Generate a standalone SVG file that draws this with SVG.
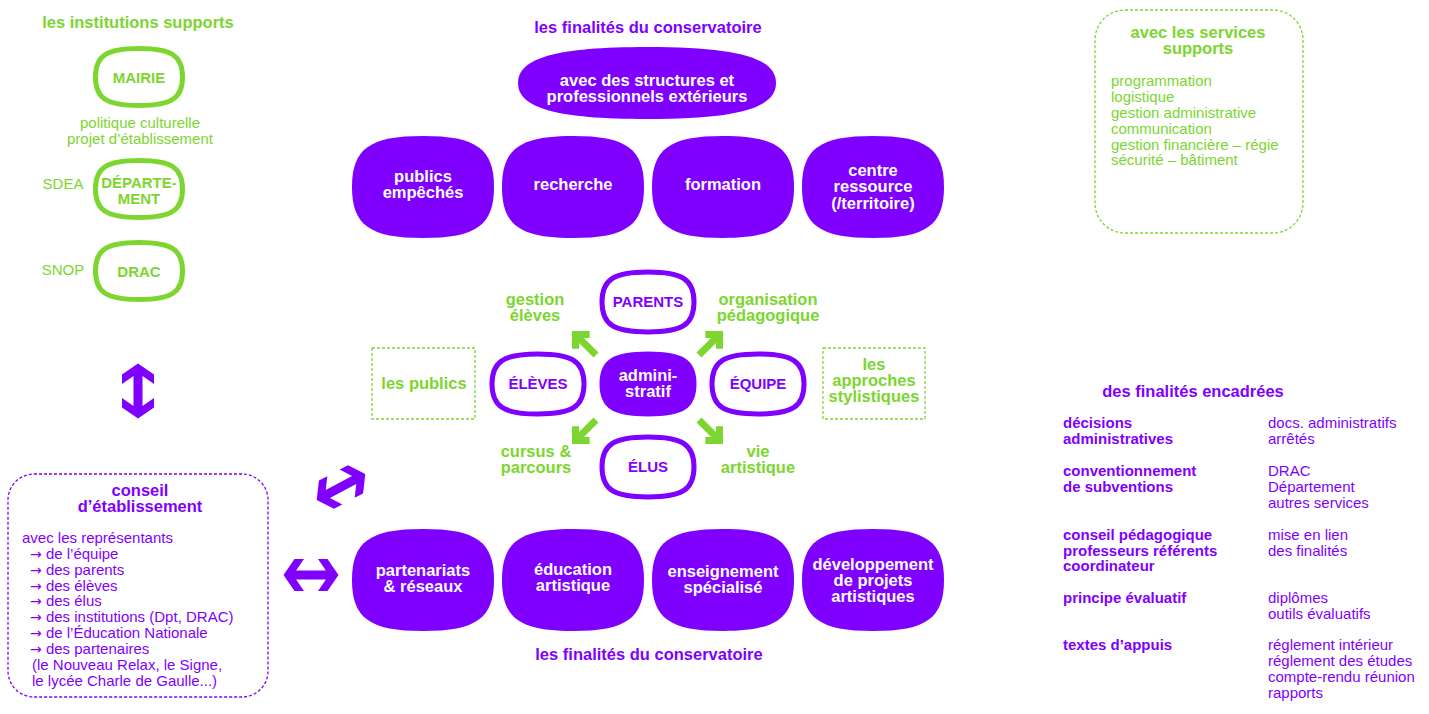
<svg xmlns="http://www.w3.org/2000/svg" xmlns:xlink="http://www.w3.org/1999/xlink" width="1429" height="714" viewBox="0 0 1429 714">
<style>
text{font-family:"Liberation Sans",Arial,sans-serif}
.pt{fill:#7f00ff;font-weight:bold;font-size:16.5px;text-anchor:middle}
.gt{fill:#7dd530;font-weight:bold;font-size:16.5px;text-anchor:middle}
.wb{fill:#fff;font-weight:bold;font-size:16.5px;text-anchor:middle}
.pc{fill:#7f00ff;font-weight:bold;font-size:15px;text-anchor:middle}
.gc{fill:#7dd530;font-weight:bold;font-size:15px;text-anchor:middle}
.gl{fill:#7dd530;font-weight:bold;font-size:16.5px;text-anchor:middle}
.gr{fill:#7dd530;font-size:15px}
.pr{fill:#7f00ff;font-size:15px}
.pb{fill:#7f00ff;font-weight:bold;font-size:15px}
.ar{font-family:"DejaVu Sans",sans-serif;font-size:14px}
.fill{fill:#7f00ff}
.pout{fill:#fff;stroke:#7f00ff;stroke-width:5}
.pfill{fill:#7f00ff;stroke:#7f00ff;stroke-width:5}
.gout{fill:#fff;stroke:#7dd530;stroke-width:5}
.gdash{fill:none;stroke:#7dd530;stroke-width:1.3;stroke-dasharray:3 2}
.pdash{fill:none;stroke:#7f00ff;stroke-width:1.3;stroke-dasharray:3 2}
.garr path{stroke:#7dd530;stroke-width:7;fill:none;stroke-linejoin:miter}
</style>
<defs>
<path id="rowBlob" d="M0,-51 C53.25,-51 71,-38.25 71,0 C71,38.25 53.25,51 0,51 C-53.25,51 -71,38.25 -71,0 C-71,-38.25 -53.25,-51 0,-51Z"/>
<path id="topBlob" d="M0,-36 C90.3,-36 129,-25.2 129,0 C129,25.2 90.3,36 0,36 C-90.3,36 -129,25.2 -129,0 C-129,-25.2 -90.3,-36 0,-36Z"/>
<path id="smallBlob" d="M0,-30 C34.5,-30 46,-22.5 46,0 C46,22.5 34.5,30 0,30 C-34.5,30 -46,22.5 -46,0 C-46,-22.5 -34.5,-30 0,-30Z"/>
<path id="instBlob" d="M0,-28.5 C32.6,-28.5 43.5,-21.4 43.5,0 C43.5,21.4 32.6,28.5 0,28.5 C-32.6,28.5 -43.5,21.4 -43.5,0 C-43.5,-21.4 -32.6,-28.5 0,-28.5Z"/>
<path id="dbl" d="M0,-27.5 L16,-16.5 L16,-7 L4.5,-14.9 L4.5,14.9 L16,7 L16,16.5 L0,27.5 L-16,16.5 L-16,7 L-4.5,14.9 L-4.5,-14.9 L-16,-7 L-16,-16.5 Z"/>
<g id="garrow" class="garr"><path d="M-17,0 H10"/><path d="M2,-10 L12,0 L2,10"/></g>
</defs>

<!-- left: institutions -->
<text class="gt" x="138" y="28">les institutions supports</text>
<g id="mairie">
<use xlink:href="#instBlob" class="gout" x="139" y="77"/>
<text class="gc" x="139" y="83">MAIRIE</text>
</g>
<text class="gr" x="140" y="128" text-anchor="middle">politique culturelle</text>
<text class="gr" x="140" y="144" text-anchor="middle">projet d’établissement</text>
<g id="departement">
<use xlink:href="#instBlob" class="gout" x="139" y="189"/>
<text class="gc" x="139" y="188">DÉPARTE-</text>
<text class="gc" x="139" y="204">MENT</text>
</g>
<text class="gr" x="63" y="189" text-anchor="middle">SDEA</text>
<g id="drac">
<use xlink:href="#instBlob" class="gout" x="139" y="271"/>
<text class="gc" x="139" y="277">DRAC</text>
</g>
<text class="gr" x="63" y="275" text-anchor="middle">SNOP</text>

<!-- connectors -->
<g id="connectors">
<use xlink:href="#dbl" class="fill" transform="translate(138,391)"/>
<use xlink:href="#dbl" class="fill" transform="translate(341,487) rotate(62)"/>
<use xlink:href="#dbl" class="fill" transform="translate(311,575) rotate(90)"/>
<use xlink:href="#garrow" transform="translate(584,343) rotate(-135)"/>
<use xlink:href="#garrow" transform="translate(711,343) rotate(-45)"/>
<use xlink:href="#garrow" transform="translate(584,432) rotate(135)"/>
<use xlink:href="#garrow" transform="translate(711,432) rotate(45)"/>
</g>

<!-- conseil d'établissement -->
<g id="conseil">
<rect class="pdash" x="8" y="474" width="260" height="223" rx="26"/>
<text class="pt" x="140" y="496">conseil</text>
<text class="pt" x="140" y="512">d’établissement</text>
<text class="pr" x="22" y="543">avec les représentants</text>
<text class="pr" x="30" y="559"><tspan class="ar">→</tspan> de l’équipe</text>
<text class="pr" x="30" y="575"><tspan class="ar">→</tspan> des parents</text>
<text class="pr" x="30" y="591"><tspan class="ar">→</tspan> des élèves</text>
<text class="pr" x="30" y="606"><tspan class="ar">→</tspan> des élus</text>
<text class="pr" x="30" y="622"><tspan class="ar">→</tspan> des institutions (Dpt, DRAC)</text>
<text class="pr" x="30" y="638"><tspan class="ar">→</tspan> de l’Éducation Nationale</text>
<text class="pr" x="30" y="654"><tspan class="ar">→</tspan> des partenaires</text>
<text class="pr" x="32" y="670">(le Nouveau Relax, le Signe,</text>
<text class="pr" x="32" y="686">le lycée Charle de Gaulle...)</text>
</g>

<!-- top finalités -->
<text class="pt" x="648" y="33">les finalités du conservatoire</text>
<g id="exterieurs">
<use xlink:href="#topBlob" class="fill" x="647" y="83"/>
<text class="wb" x="647" y="86">avec des structures et</text>
<text class="wb" x="647" y="102">professionnels extérieurs</text>
</g>
<g id="publics-empeches">
<use xlink:href="#rowBlob" class="fill" x="423" y="187"/>
<text class="wb" x="423" y="182">publics</text>
<text class="wb" x="423" y="198">empêchés</text>
</g>
<g id="recherche">
<use xlink:href="#rowBlob" class="fill" x="573" y="187"/>
<text class="wb" x="573" y="190">recherche</text>
</g>
<g id="formation">
<use xlink:href="#rowBlob" class="fill" x="723" y="187"/>
<text class="wb" x="723" y="190">formation</text>
</g>
<g id="centre-ressource">
<use xlink:href="#rowBlob" class="fill" x="873" y="187"/>
<text class="wb" x="873" y="176">centre</text>
<text class="wb" x="873" y="192">ressource</text>
<text class="wb" x="873" y="209">(/territoire)</text>
</g>

<!-- center cluster -->
<g id="parents">
<use xlink:href="#smallBlob" class="pout" x="648" y="302"/>
<text class="pc" x="648" y="307">PARENTS</text>
</g>
<g id="eleves">
<use xlink:href="#smallBlob" class="pout" x="538" y="384"/>
<text class="pc" x="538" y="389">ÉLÈVES</text>
</g>
<g id="administratif">
<use xlink:href="#smallBlob" class="pfill" x="648" y="384"/>
<text class="wb" x="648" y="381">admini-</text>
<text class="wb" x="648" y="397">stratif</text>
</g>
<g id="equipe">
<use xlink:href="#smallBlob" class="pout" x="758" y="384"/>
<text class="pc" x="758" y="389">ÉQUIPE</text>
</g>
<g id="elus">
<use xlink:href="#smallBlob" class="pout" x="648" y="467"/>
<text class="pc" x="648" y="472">ÉLUS</text>
</g>
<text class="gl" x="535" y="305">gestion</text>
<text class="gl" x="535" y="321">élèves</text>
<text class="gl" x="768" y="305">organisation</text>
<text class="gl" x="768" y="321">pédagogique</text>
<text class="gl" x="536" y="457">cursus &amp;</text>
<text class="gl" x="536" y="473">parcours</text>
<text class="gl" x="758" y="457">vie</text>
<text class="gl" x="758" y="473">artistique</text>
<g id="les-publics">
<rect class="gdash" x="372" y="348" width="103" height="71"/>
<text class="gl" x="424" y="389">les publics</text>
</g>
<g id="approches">
<rect class="gdash" x="823" y="348" width="102" height="71"/>
<text class="gl" x="874" y="370">les</text>
<text class="gl" x="874" y="386">approches</text>
<text class="gl" x="874" y="402">stylistiques</text>
</g>

<!-- bottom finalités -->
<g id="partenariats">
<use xlink:href="#rowBlob" class="fill" x="423" y="580"/>
<text class="wb" x="423" y="576">partenariats</text>
<text class="wb" x="423" y="592">&amp; réseaux</text>
</g>
<g id="education">
<use xlink:href="#rowBlob" class="fill" x="573" y="580"/>
<text class="wb" x="573" y="575">éducation</text>
<text class="wb" x="573" y="591">artistique</text>
</g>
<g id="enseignement">
<use xlink:href="#rowBlob" class="fill" x="723" y="580"/>
<text class="wb" x="723" y="577">enseignement</text>
<text class="wb" x="723" y="593">spécialisé</text>
</g>
<g id="developpement">
<use xlink:href="#rowBlob" class="fill" x="873" y="580"/>
<text class="wb" x="873" y="570">développement</text>
<text class="wb" x="873" y="586">de projets</text>
<text class="wb" x="873" y="602">artistiques</text>
</g>
<text class="pt" x="649" y="660">les finalités du conservatoire</text>

<!-- services supports -->
<g id="services">
<rect class="gdash" x="1095" y="10" width="208" height="223" rx="30"/>
<text class="gt" x="1198" y="38">avec les services</text>
<text class="gt" x="1198" y="54">supports</text>
<text class="gr" x="1111" y="86">programmation</text>
<text class="gr" x="1111" y="102">logistique</text>
<text class="gr" x="1111" y="118">gestion administrative</text>
<text class="gr" x="1111" y="134">communication</text>
<text class="gr" x="1111" y="150">gestion financière – régie</text>
<text class="gr" x="1111" y="165">sécurité – bâtiment</text>
</g>

<!-- finalités encadrées -->
<g id="encadrees">
<text class="pt" x="1193" y="397">des finalités encadrées</text>
<text class="pb" x="1063" y="428">décisions</text>
<text class="pb" x="1063" y="444">administratives</text>
<text class="pb" x="1063" y="476">conventionnement</text>
<text class="pb" x="1063" y="492">de subventions</text>
<text class="pb" x="1063" y="540">conseil pédagogique</text>
<text class="pb" x="1063" y="556">professeurs référents</text>
<text class="pb" x="1063" y="571">coordinateur</text>
<text class="pb" x="1063" y="603">principe évaluatif</text>
<text class="pb" x="1063" y="650">textes d’appuis</text>
<text class="pr" x="1268" y="428">docs. administratifs</text>
<text class="pr" x="1268" y="444">arrêtés</text>
<text class="pr" x="1268" y="476">DRAC</text>
<text class="pr" x="1268" y="492">Département</text>
<text class="pr" x="1268" y="508">autres services</text>
<text class="pr" x="1268" y="540">mise en lien</text>
<text class="pr" x="1268" y="556">des finalités</text>
<text class="pr" x="1268" y="603">diplômes</text>
<text class="pr" x="1268" y="619">outils évaluatifs</text>
<text class="pr" x="1268" y="650">réglement intérieur</text>
<text class="pr" x="1268" y="666">réglement des études</text>
<text class="pr" x="1268" y="682">compte-rendu réunion</text>
<text class="pr" x="1268" y="698">rapports</text>
</g>
</svg>
